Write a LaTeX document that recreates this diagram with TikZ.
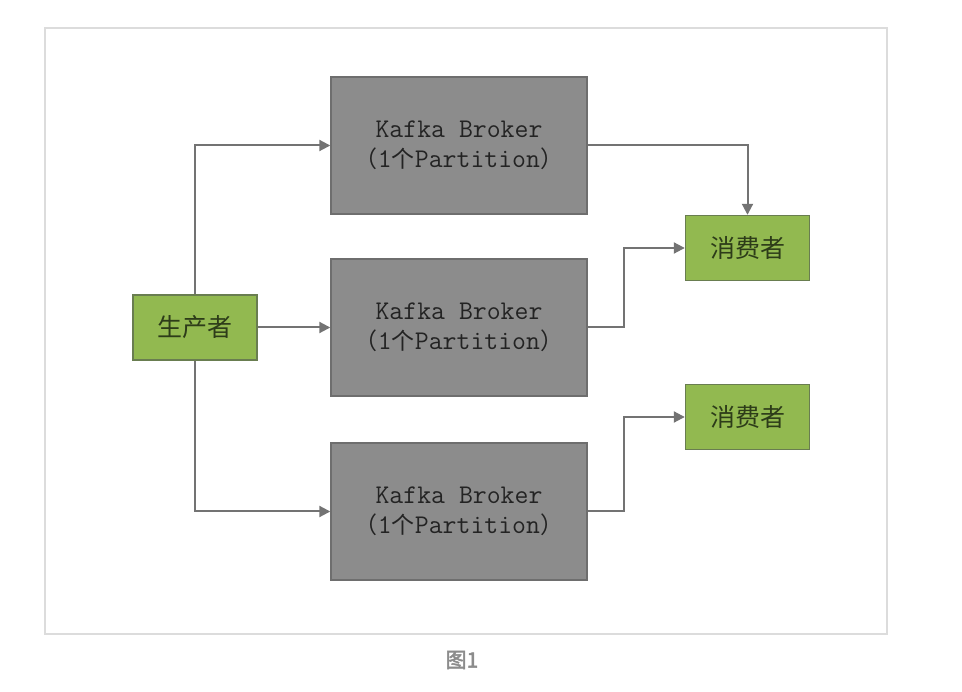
\documentclass[tikz,border=0pt]{standalone}
\usepackage{fontspec}
\usepackage{xcolor}
\usepackage{tikz}
\usetikzlibrary{positioning, arrows.meta}
\newfontfamily\cjk{Noto Sans CJK SC}
\newfontfamily\cjkbold{Noto Sans CJK SC}[BoldFont=*,FakeBold=2.5]
\newcommand{\monolat}{\ttfamily}
\newcommand{\cjkpart}{\cjk\fontsize{23}{30}\selectfont}
\definecolor{brokergray}{RGB}{140,140,140}
\definecolor{brokerline}{RGB}{110,110,110}
\definecolor{kafkagreen}{RGB}{146,185,80}
\definecolor{greenline}{RGB}{105,125,80}
\definecolor{wiregray}{RGB}{115,115,115}
\definecolor{framegray}{RGB}{220,220,220}
\definecolor{textdark}{RGB}{35,35,35}
\definecolor{greentext}{RGB}{45,60,25}
\definecolor{captiongray}{RGB}{140,140,140}

\begin{document}
\begin{tikzpicture}[x=1pt,y=-1pt,
  broker/.style={draw=brokerline, fill=brokergray, line width=1.4pt, minimum width=256pt,
                 minimum height=137pt, align=center, text=textdark, font=\fontsize{27}{30}\selectfont},
  client/.style={draw=greenline, fill=kafkagreen, line width=1.4pt, minimum width=124pt,
                 minimum height=65pt, text=greentext, font=\cjk\fontsize{25}{28}\selectfont},
  arr/.style={-{Triangle[length=11pt,width=11pt]}, draw=wiregray, line width=2pt}]

  \useasboundingbox (0,0) rectangle (962,692);
  \draw[framegray, line width=1.6pt] (45,28) rectangle (887,634);

  %% Brokers
  \node[broker] (b1) at (459,145.5)
    {{\monolat Kafka Broker}\\{\cjkpart （}{\monolat 1}{\cjkpart 个}{\monolat Partition}{\cjkpart ）}};
  \node[broker] (b2) at (459,327.5)
    {{\monolat Kafka Broker}\\{\cjkpart （}{\monolat 1}{\cjkpart 个}{\monolat Partition}{\cjkpart ）}};
  \node[broker] (b3) at (459,511.5)
    {{\monolat Kafka Broker}\\{\cjkpart （}{\monolat 1}{\cjkpart 个}{\monolat Partition}{\cjkpart ）}};

  %% Producer and consumers
  \node[client] (prod) at (195,327.5) {生产者};
  \node[client] (cons1) at (747.5,248) {消费者};
  \node[client] (cons2) at (747.5,417) {消费者};

  %% Arrows
  \draw[arr] (prod.north) |- (b1.west);
  \draw[arr] (prod.east) -- (b2.west);
  \draw[arr] (prod.south) |- (b3.west);
  \draw[arr] (b1.east) -| (cons1.north);
  \draw[arr] (b2.east) -- ++(36,0) |- (cons1.west);
  \draw[arr] (b3.east) -- ++(36,0) |- (cons2.west);

  %% Caption
  \node[text=captiongray, font=\cjkbold\bfseries\fontsize{21}{22}\selectfont] (cap) at (462,660) {图1};
\end{tikzpicture}
\end{document}
